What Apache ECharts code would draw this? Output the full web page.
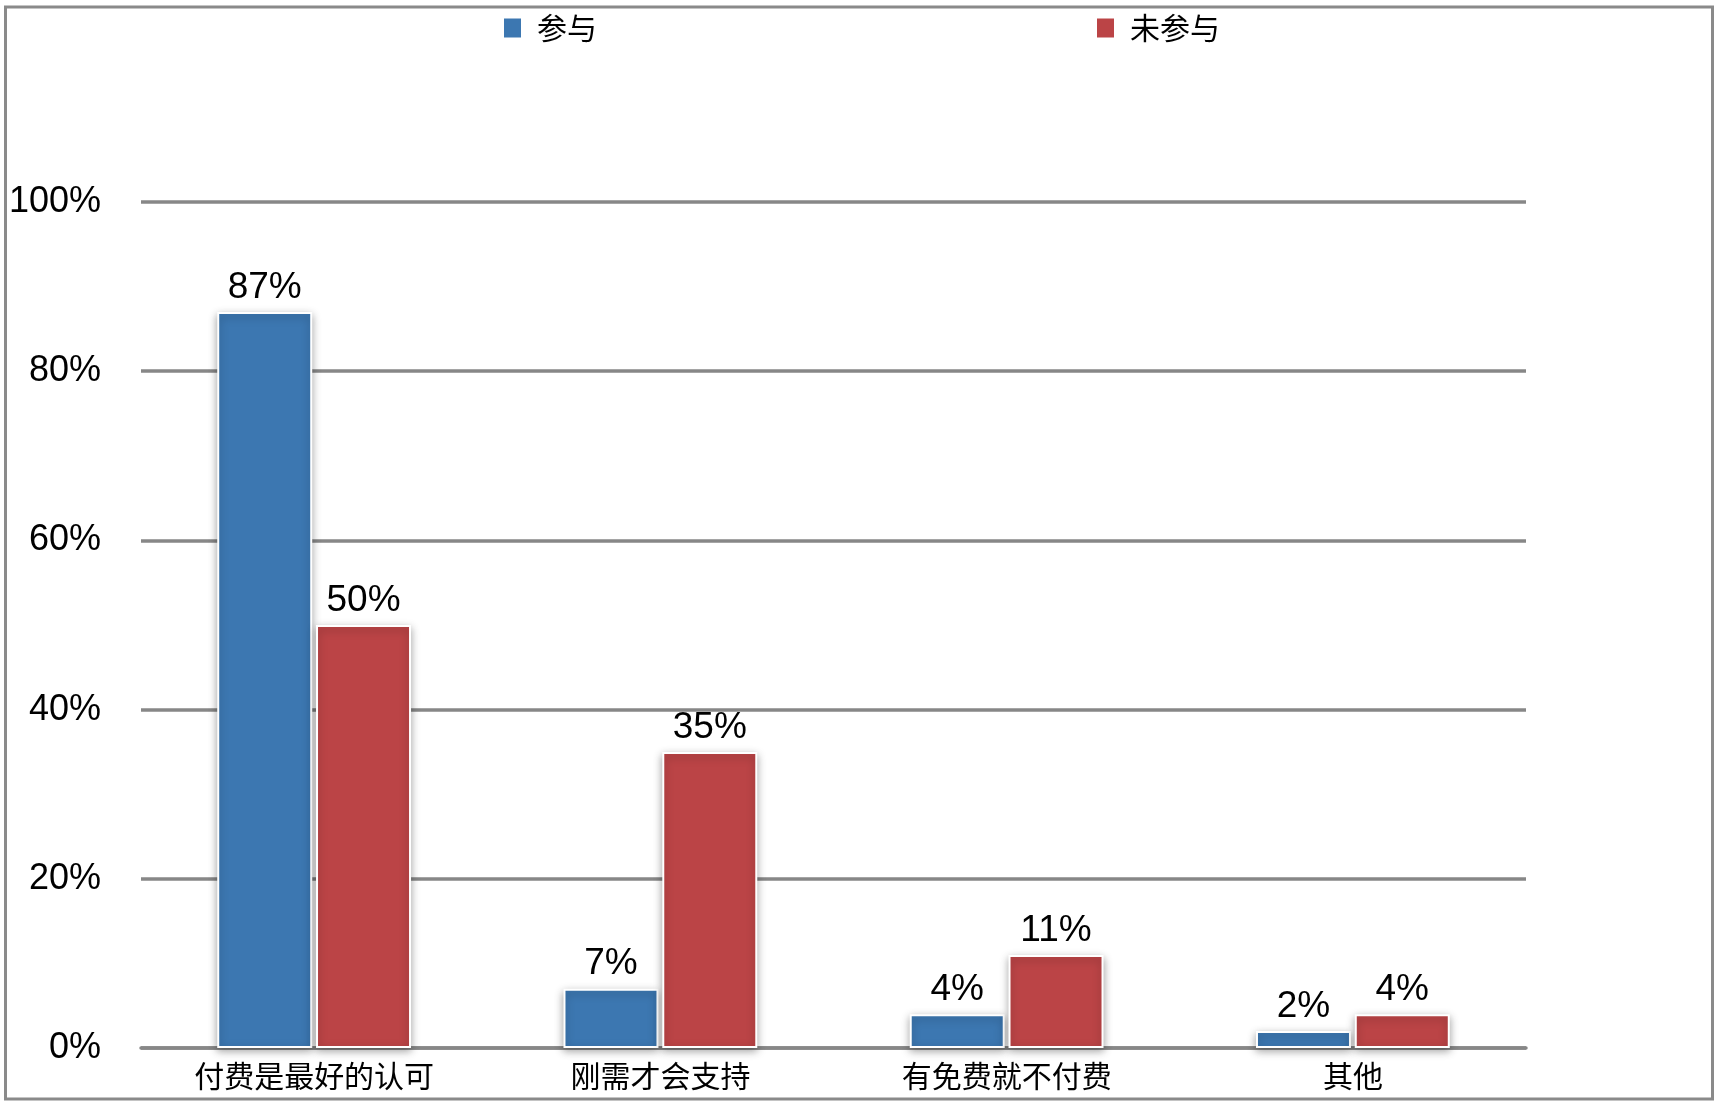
<!DOCTYPE html>
<html>
<head>
<meta charset="utf-8">
<script src="https://cdn.jsdelivr.net/npm/echarts@6/dist/echarts.min.js"></script>
<style>
html,body{margin:0;padding:0;background:#fff;}
#chart{width:1724px;height:1110px;}
</style>
</head>
<body>
<div id="chart"></div>
<script>
const categories = ['付费是最好的认可', '刚需才会支持', '有免费就不付费', '其他'];
const seriesNames = ['参与', '未参与'];
const participated = [87, 7, 4, 2];
const notParticipated = [50, 35, 11, 4];
const colors = ['#3c77b1', '#bb4446'];

const chart = echarts.init(document.getElementById('chart'), null, {renderer: 'canvas'});
const textFont = 'Liberation Sans, Arial, Helvetica, sans-serif';
const cjkFont = 'Noto Sans CJK SC, sans-serif';

function barSeries(name, data, color) {
  return {
    name: name,
    type: 'bar',
    data: data,
    barWidth: 95,
    barGap: '4%',
    itemStyle: {
      color: color,
      borderColor: '#ffffff',
      borderWidth: 2,
      shadowColor: 'rgba(0,0,0,0.35)',
      shadowBlur: 8,
      shadowOffsetY: 3
    },
    label: {
      show: true,
      position: 'top',
      distance: 6,
      formatter: '{c}%',
      color: '#000',
      fontSize: 37,
      fontFamily: textFont
    }
  };
}

const legendCommon = {
  top: 8,
  icon: 'rect',
  itemWidth: 19, itemHeight: 21,
  textStyle: {fontSize: 30, fontFamily: cjkFont, color: '#000', padding: [0, 0, 0, 10]}
};

chart.setOption({
  animation: false,
  backgroundColor: '#fff',
  graphic: [{
    type: 'rect',
    shape: {x: 5.5, y: 7, width: 1707, height: 1092},
    style: {fill: 'none', stroke: '#8a8a8a', lineWidth: 3},
    silent: true
  }],
  legend: [
    Object.assign({data: [seriesNames[0]], left: 497}, legendCommon),
    Object.assign({data: [seriesNames[1]], left: 1090}, legendCommon)
  ],
  grid: {left: 141, right: 198, top: 202, bottom: 62, containLabel: false},
  xAxis: {
    type: 'category',
    data: categories,
    axisLine: {show: true, lineStyle: {color: '#878787', width: 3.5}},
    axisTick: {show: false},
    axisLabel: {fontSize: 30, fontFamily: cjkFont, color: '#000', margin: 13}
  },
  yAxis: {
    type: 'value',
    min: 0, max: 100, interval: 20,
    axisLine: {show: false},
    axisTick: {show: false},
    axisLabel: {formatter: '{value}%', fontSize: 36, fontFamily: textFont, color: '#000', margin: 40},
    splitLine: {show: true, lineStyle: {color: '#878787', width: 3.5}}
  },
  series: [
    barSeries(seriesNames[0], participated, colors[0]),
    barSeries(seriesNames[1], notParticipated, colors[1])
  ]
});
</script>
</body>
</html>
